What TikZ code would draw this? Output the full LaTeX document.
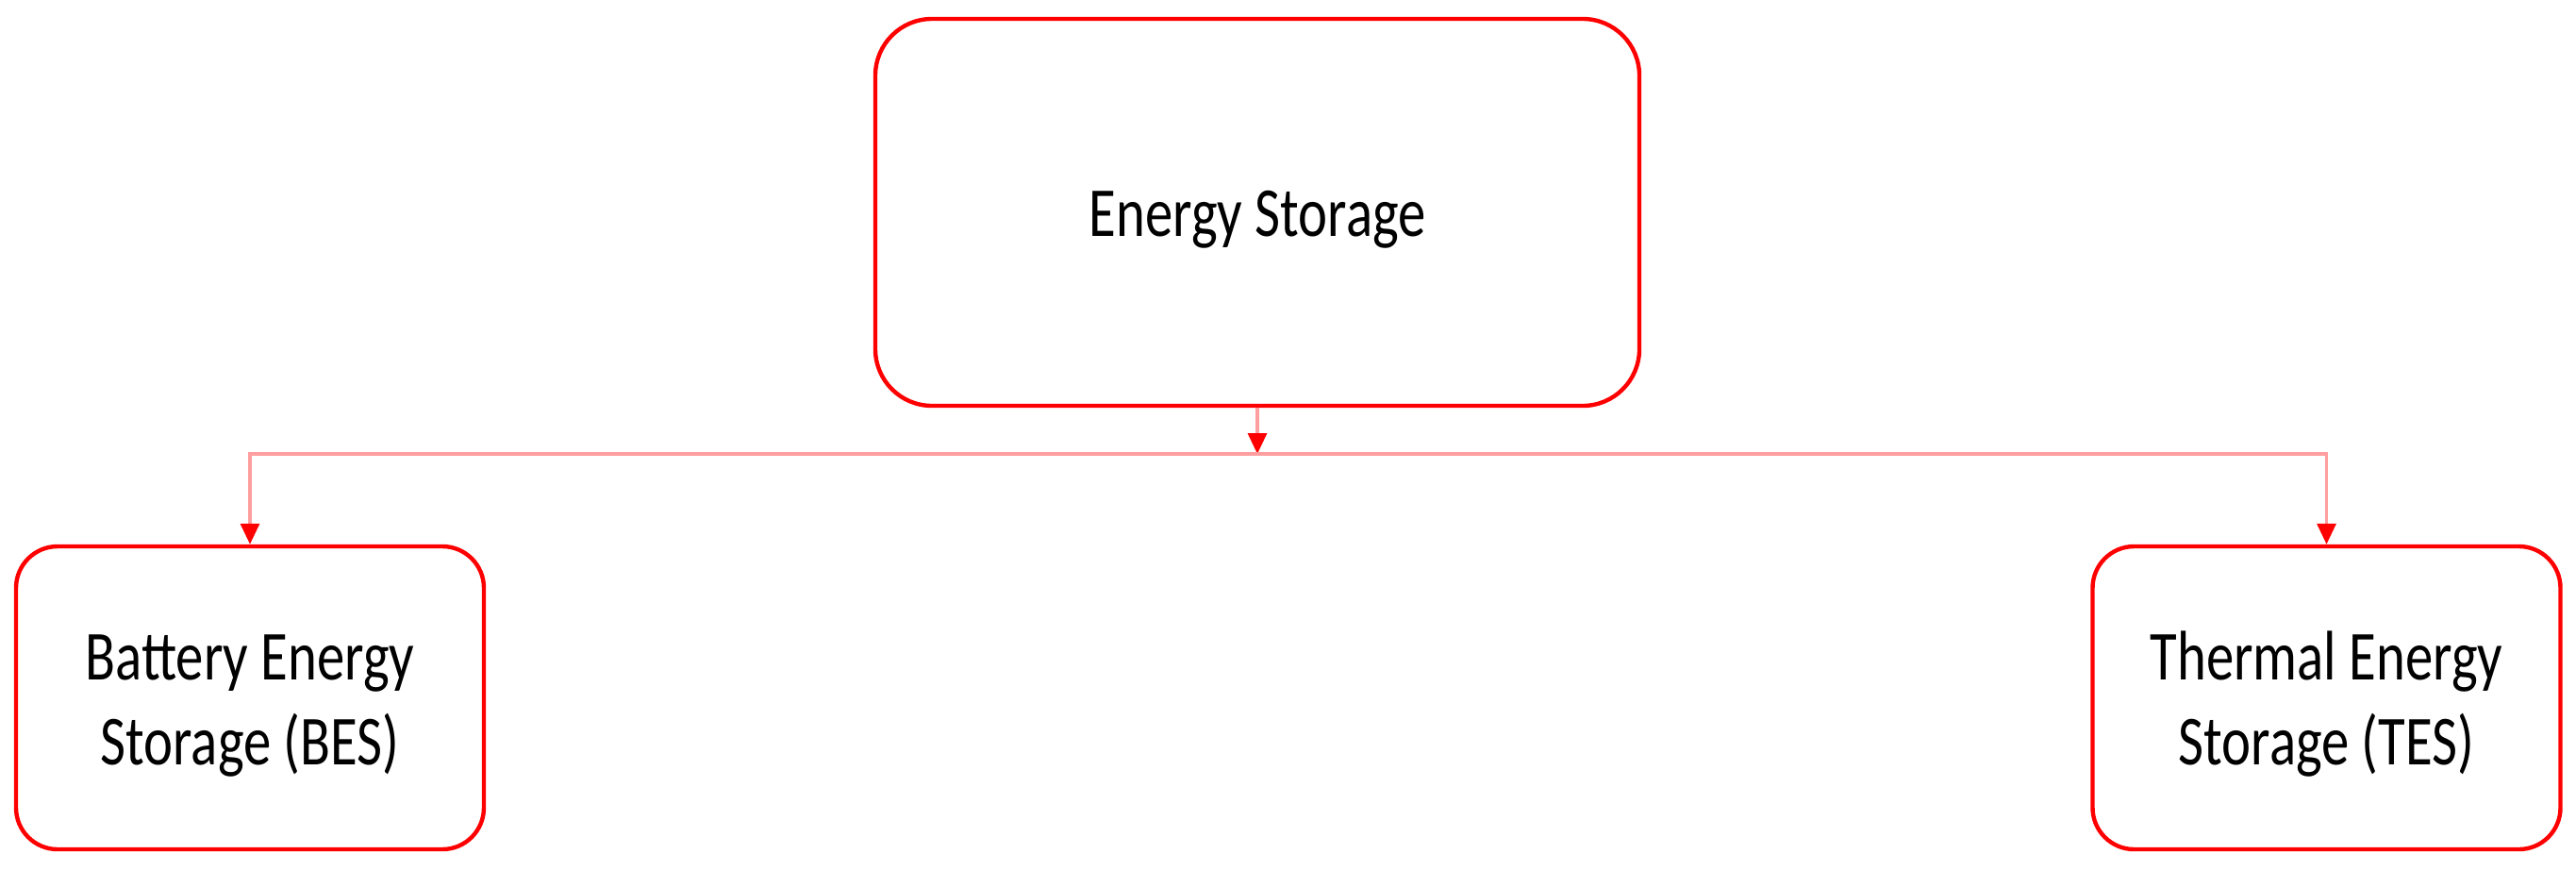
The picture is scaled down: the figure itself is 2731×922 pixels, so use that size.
\documentclass[tikz,border=0pt]{standalone}
\usepackage{fontspec}
\setmainfont{Carlito}[FakeStretch=0.79]
\usetikzlibrary{arrows.meta}
\tikzset{
  box/.style={draw=red, line width=1.1pt, fill=white, align=center,
    font=\fontsize{18.6}{22.5}\selectfont, text=black, inner sep=0pt},
  bigbox/.style={box, rounded corners=15pt, minimum width=202.5pt, minimum height=102.5pt},
  smallbox/.style={box, rounded corners=11pt, minimum width=124pt, minimum height=80.25pt},
  conn/.style={draw=red!38, line width=0.8pt,
    -{Triangle[width=5pt,length=5.5pt,color=red,fill=red]}},
  bus/.style={draw=red!38, line width=0.8pt}
}
\newcommand{\onelinetxt}[1]{\raisebox{-6.25pt}[0pt][0pt]{#1}}
\newcommand{\twolinetxt}[2]{\raisebox{4.875pt}[0pt][0pt]{\begin{tabular}[t]{@{}c@{}}#1\\#2\end{tabular}}}
\begin{document}
\begin{tikzpicture}[x=0.25pt,y=-0.25pt]
\useasboundingbox (0,0) rectangle (2731,922);
\node[bigbox] (es) at (1333,225) {\onelinetxt{Energy Storage}};
\node[smallbox] (bes) at (265,739.5) {\twolinetxt{Battery Energy}{Storage (BES)}};
\node[smallbox] (tes) at (2466.5,739.5) {\twolinetxt{Thermal Energy}{Storage (TES)}};
\coordinate (j) at (1333,481);
\draw[bus] (bes.north |- j) -- (tes.north |- j);
\draw[conn] (es.south) -- (j);
\draw[conn] (j) -| (bes.north);
\draw[conn] (j) -| (tes.north);
\end{tikzpicture}
\end{document}
